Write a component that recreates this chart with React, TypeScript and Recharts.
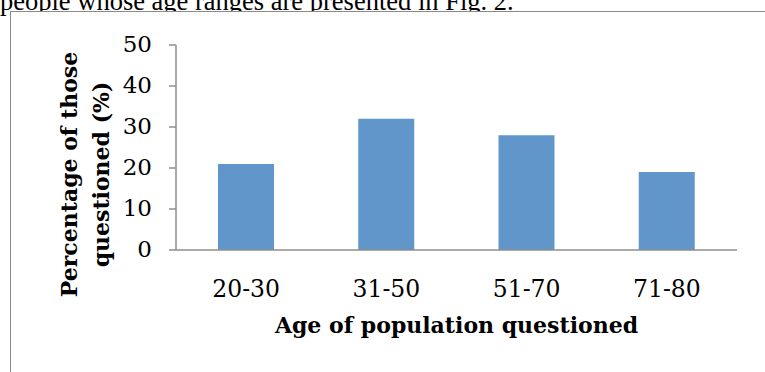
import { Bar, BarChart, Label, XAxis, YAxis } from 'recharts'

const ageGroups = ['20-30', '31-50', '51-70', '71-80']
const percentQuestioned = [21, 32, 28, 19]
const yTicks = [0, 10, 20, 30, 40, 50]

const data = ageGroups.map((age, i) => ({ age, pct: percentQuestioned[i] }))

const colors = {
  bar: '#6096c9',
  axis: '#8e8e8e',
  frame: '#8a8a8a',
  text: '#000000',
}

const labelFont = '"DejaVu Serif", serif'

function YTick({ x, y, payload }: any) {
  return (
    <text x={x} y={y + 7} textAnchor="end" fontFamily={labelFont} fontSize={23} fill={colors.text}>
      {payload.value}
    </text>
  )
}

function XTick({ x, y, payload }: any) {
  return (
    <text x={x} y={y + 45} textAnchor="middle" fontFamily={labelFont} fontSize={23.5} fill={colors.text}>
      {payload.value}
    </text>
  )
}

function YTitle({ viewBox }: any) {
  const cy = viewBox.y + viewBox.height / 2 + 27
  return (
    <g fontFamily={labelFont} fontSize={22} fontWeight="bold" fill={colors.text} textAnchor="middle">
      <text transform={`translate(77, ${cy}) rotate(-90)`}>Percentage of those</text>
      <text transform={`translate(109, ${cy}) rotate(-90)`}>questioned (%)</text>
    </g>
  )
}

function XTitle({ viewBox }: any) {
  const cx = viewBox.x + viewBox.width / 2
  return (
    <text x={cx} y={333} textAnchor="middle" fontFamily={labelFont} fontSize={22} fontWeight="bold" fill={colors.text}>
      Age of population questioned
    </text>
  )
}

export default function App() {
  return (
    <div
      style={{
        position: 'absolute',
        top: 0,
        left: 0,
        width: 765,
        height: 372,
        overflow: 'hidden',
        background: '#fff',
      }}
    >
      <div
        style={{
          position: 'absolute',
          left: 0,
          top: -12,
          fontFamily: '"Liberation Serif", serif',
          fontSize: 26.5,
          lineHeight: '26px',
          whiteSpace: 'nowrap',
        }}
      >
        people whose age ranges are presented in Fig. 2.
      </div>
      <div
        style={{
          position: 'absolute',
          left: 10,
          top: 11,
          width: 800,
          height: 400,
          borderLeft: `1px solid ${colors.frame}`,
          borderTop: `1px solid ${colors.frame}`,
          background: '#fff',
        }}
      />
      <div style={{ position: 'absolute', left: 0, top: 0 }}>
        <BarChart width={765} height={372} data={data} margin={{ top: 45, right: 28, left: 0, bottom: 0 }}>
          <XAxis
            dataKey="age"
            height={122}
            tickLine={false}
            tickSize={0}
            axisLine={{ stroke: colors.axis, strokeWidth: 1.5 }}
            tick={<XTick />}
          >
            <Label content={<XTitle />} />
          </XAxis>
          <YAxis
            width={176}
            domain={[0, 50]}
            ticks={yTicks}
            tickSize={7}
            tickMargin={17}
            tickLine={{ stroke: colors.axis, strokeWidth: 1.5 }}
            axisLine={{ stroke: colors.axis, strokeWidth: 1.5 }}
            tick={<YTick />}
          >
            <Label content={<YTitle />} />
          </YAxis>
          <Bar dataKey="pct" fill={colors.bar} barSize={56} isAnimationActive={false} />
        </BarChart>
      </div>
    </div>
  )
}
